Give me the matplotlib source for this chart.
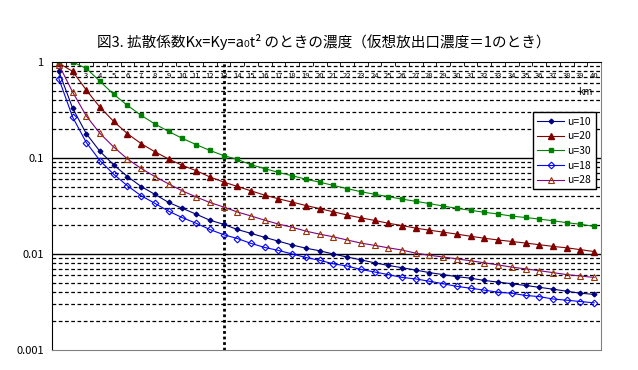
import numpy as np
import matplotlib.pyplot as plt
from matplotlib.ticker import FixedLocator, NullFormatter

plt.rcParams['font.family'] = ['Noto Sans CJK JP', 'DejaVu Sans']

# 距離 (km)
km = list(range(1, 41))

# 濃度
u10 = [0.80, 0.331, 0.179, 0.117, 0.0847, 0.0641, 0.0504, 0.0418, 0.0344, 0.0299,
       0.0260, 0.0225, 0.0204, 0.0180, 0.0164, 0.0149, 0.0136, 0.0124, 0.0115, 0.0108,
       0.0100, 0.0093, 0.0087, 0.0081, 0.0076, 0.0072, 0.0068, 0.0064, 0.0061, 0.0058,
       0.0056, 0.0053, 0.0051, 0.0049, 0.0047, 0.0045, 0.0043, 0.0041, 0.0039, 0.0038]
u20 = [0.97, 0.80, 0.51, 0.337, 0.24, 0.179, 0.141, 0.116, 0.0976, 0.0837,
       0.0739, 0.0635, 0.0562, 0.0506, 0.0455, 0.0410, 0.0376, 0.0347, 0.0320, 0.0297,
       0.0275, 0.0255, 0.0238, 0.0224, 0.0209, 0.0198, 0.0186, 0.0177, 0.0169, 0.0161,
       0.0153, 0.0146, 0.0140, 0.0135, 0.0130, 0.0125, 0.0120, 0.0116, 0.0111, 0.0106]
u30 = [1.0, 1.0, 0.858, 0.628, 0.46, 0.353, 0.278, 0.226, 0.189, 0.160,
       0.138, 0.120, 0.106, 0.0967, 0.0851, 0.0775, 0.0708, 0.0654, 0.0601, 0.0560,
       0.0518, 0.0480, 0.0446, 0.0419, 0.0396, 0.0373, 0.0354, 0.0335, 0.0316, 0.0299,
       0.0285, 0.0272, 0.0261, 0.0248, 0.0240, 0.0231, 0.0222, 0.0212, 0.0204, 0.0194]
u18 = [0.67, 0.267, 0.145, 0.0937, 0.0676, 0.0513, 0.0404, 0.0337, 0.0279, 0.0239,
       0.0209, 0.0180, 0.0159, 0.0145, 0.0129, 0.0117, 0.0109, 0.0100, 0.0092, 0.0086,
       0.0079, 0.0075, 0.0069, 0.0065, 0.0061, 0.0057, 0.0055, 0.0052, 0.0049, 0.0046,
       0.0044, 0.0042, 0.0040, 0.0039, 0.0037, 0.0036, 0.0034, 0.0033, 0.0032, 0.0031]
u28 = [0.937, 0.487, 0.274, 0.180, 0.130, 0.0976, 0.0778, 0.0641, 0.0537, 0.0454,
       0.0393, 0.0344, 0.0309, 0.0274, 0.0249, 0.0225, 0.0205, 0.0190, 0.0173, 0.0161,
       0.0151, 0.0140, 0.0130, 0.0123, 0.0116, 0.0110, 0.0102, 0.0097, 0.0093, 0.0089,
       0.0085, 0.0081, 0.0077, 0.0073, 0.0070, 0.0067, 0.0064, 0.0061, 0.0059, 0.0057]

fig = plt.figure(figsize=(6.38, 3.70), dpi=100)
ax = fig.add_axes([52/638, 1 - 350/370, 549/638, 288/370])

ax.plot(km, u10, color='#000080', lw=0.8, marker='D', ms=2.4, mfc='#000080', mec='#000080', label='u=10')
ax.plot(km, u20, color='#800000', lw=0.8, marker='^', ms=3.8, mfc='#800000', mec='#800000', label='u=20')
ax.plot(km, u30, color='#008000', lw=0.8, marker='s', ms=2.8, mfc='#008000', mec='#008000', label='u=30')
ax.plot(km, u18, color='#0000ff', lw=0.8, marker='D', ms=3.4, mfc='none', mec='#0000ff', mew=0.8, label='u=18')
ax.plot(km, u28, color='#800080', lw=0.8, marker='^', ms=5, mfc='none', mec='#993300', mew=0.8, label='u=28')

ax.set_yscale('log')
ax.set_ylim(0.001, 1)
ax.set_xlim(0.5, 40.5)

# 横グリッド
for dec in [0.001, 0.01, 0.1]:
    for m in range(2, 10):
        ax.axhline(dec * m, color='black', lw=0.9, ls=(0, (3, 2)), zorder=0)
for v in [0.01, 0.1]:
    ax.axhline(v, color='black', lw=1.0, zorder=0)

# 13km の点線
ax.axvline(13, color='black', lw=2, ls=(0, (1, 1)), zorder=1)

ax.yaxis.set_major_locator(FixedLocator([0.001, 0.01, 0.1, 1]))
ax.set_yticklabels(['0.001', '0.01', '0.1', '1'], fontsize=8)
ax.yaxis.set_minor_formatter(NullFormatter())
ax.tick_params(axis='y', which='both', length=0, pad=6)

ax.set_xticks(km)
ax.set_xticklabels([str(k) for k in km], fontsize=5.5)
ax.set_xticks(np.arange(0.5, 41, 1), minor=True)
ax.tick_params(axis='x', which='major', top=True, bottom=False, labeltop=True,
               labelbottom=False, length=0, pad=-13)
ax.tick_params(axis='x', which='minor', top=True, bottom=False, direction='in', length=3)

ax.text(0.985, 0.895, 'km', transform=ax.transAxes, fontsize=7, ha='right', va='center')

ax.spines['left'].set_color('black')
ax.spines['top'].set_color('black')
ax.spines['right'].set_color('#808080')
ax.spines['bottom'].set_color('#808080')

leg = ax.legend(loc='upper right', bbox_to_anchor=(0.99, 0.825), fontsize=7.5,
                fancybox=False, edgecolor='black', framealpha=1, handlelength=2.6,
                borderpad=0.4, labelspacing=0.45, handletextpad=0.3, borderaxespad=0)
leg.get_frame().set_linewidth(1.0)

fig.text(324/638, 1 - 42/370, '図3. 拡散係数Kx=Ky=a₀t² のときの濃度（仮想放出口濃度＝1のとき）',
         ha='center', va='center', fontsize=10.5)

fig.savefig('out.png', dpi=100)
